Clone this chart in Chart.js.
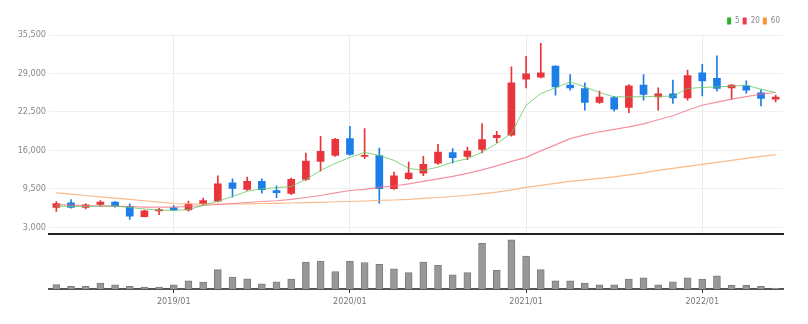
<!DOCTYPE html>
<html>
<head>
<meta charset="utf-8">
<script src="https://cdn.jsdelivr.net/npm/chart.js@4"></script>
<style>
  html, body { margin: 0; padding: 0; background: #fff; }
  #wrap { position: relative; width: 808px; height: 324px; }
  #pbox { position: absolute; left: 0; top: 0; width: 808px; height: 242px; }
  #vbox { position: absolute; left: 0; top: 236px; width: 808px; height: 88px; }
</style>
</head>
<body>
<div id="wrap">
  <div id="pbox"><canvas id="priceChart" width="808" height="242"></canvas></div>
  <div id="vbox"><canvas id="volChart" width="808" height="88"></canvas></div>
</div>
<script>
// monthly candles, 2018/05 - 2022/06
const months = [
  '2018/05', '2018/06', '2018/07', '2018/08', '2018/09', '2018/10', '2018/11', '2018/12',
  '2019/01', '2019/02', '2019/03', '2019/04', '2019/05', '2019/06', '2019/07', '2019/08',
  '2019/09', '2019/10', '2019/11', '2019/12', '2020/01', '2020/02', '2020/03', '2020/04',
  '2020/05', '2020/06', '2020/07', '2020/08', '2020/09', '2020/10', '2020/11', '2020/12',
  '2021/01', '2021/02', '2021/03', '2021/04', '2021/05', '2021/06', '2021/07', '2021/08',
  '2021/09', '2021/10', '2021/11', '2021/12', '2022/01', '2022/02', '2022/03', '2022/04',
  '2022/05', '2022/06'
];
const openP = [
  6340, 7130, 6340, 6850, 7240, 6560, 4810, 5780, 6290, 5950, 6970, 7410, 10530, 9390, 10750, 9220,
  8710, 11090, 14140, 15150, 17990, 14990, 15100, 9510, 11200, 12150, 13850, 15610, 14990, 16170, 18160, 18550,
  28040, 28380, 30240, 27020, 26460, 24090, 24940, 23240, 27020, 25040, 25550, 24870, 29110, 28160, 26560, 26900,
  25710, 24650
];
const highP = [
  7360, 7700, 6970, 7530, 7360, 6970, 5920, 6220, 6680, 7410, 7950, 11710, 11200, 11480, 11200, 10020,
  11310, 15550, 18380, 18040, 20070, 19680, 16390, 12320, 14020, 14990, 17020, 16290, 16560, 20530, 19220, 30120,
  31880, 34090, 30300, 28830, 27410, 26000, 25150, 27140, 28830, 26560, 27870, 29560, 30530, 31990, 27100, 27750,
  26290, 25330
];
const lowP = [
  5660, 6220, 6120, 6560, 6390, 4310, 4730, 5150, 5830, 5710, 6800, 7300, 8090, 9220, 8760, 7990,
  8490, 10920, 12490, 14980, 15200, 14600, 7070, 9400, 11100, 11710, 13630, 13850, 14420, 15550, 17310, 18380,
  26560, 28260, 25320, 26170, 22780, 23920, 22610, 22390, 24480, 22780, 23920, 24480, 25210, 26000, 24600, 25610,
  23510, 24190
];
const closeP = [
  7020, 6340, 6800, 7240, 6560, 4870, 5780, 6000, 5950, 6900, 7530, 10360, 9560, 10750, 9340, 8830,
  11090, 14190, 15830, 17870, 15320, 15150, 9510, 11710, 12150, 13630, 15710, 14760, 15880, 17820, 18550, 27410,
  28940, 29110, 26730, 26560, 24090, 24990, 22950, 26900, 25440, 25550, 24870, 28660, 27750, 26460, 27020, 26170,
  24770, 24990
];
const ma5 = [
  6590, 6510, 6510, 6590, 6590, 6340, 6090, 5920, 5830, 6000, 6680, 7410, 8200, 9100, 9510, 9680,
  9900, 11090, 12610, 13800, 14810, 15660, 15150, 14310, 12950, 12610, 13170, 14020, 14590, 15710, 17140, 18880,
  23630, 25610, 26560, 27580, 26730, 25780, 25040, 25040, 25070, 25150, 25150, 26460, 26630, 26730, 26850, 27020,
  26340, 25780
];
const ma20 = [
  6850, 6760, 6680, 6590, 6590, 6510, 6420, 6420, 6420, 6510, 6680, 6850, 7020, 7190, 7360, 7480,
  7700, 8030, 8370, 8800, 9220, 9390, 9730, 9980, 10320, 10750, 11170, 11590, 12100, 12700, 13370, 14140,
  14810, 15920, 16930, 17980, 18630, 19140, 19560, 19980, 20490, 21170, 21850, 22780, 23630, 24140, 24650, 25070,
  25490, 25780
];
const ma60 = [
  8830, 8590, 8370, 8150, 7920, 7700, 7480, 7240, 7020, 6970, 6930, 6930, 6930, 6970, 7020, 7050,
  7100, 7150, 7220, 7310, 7360, 7440, 7530, 7610, 7700, 7870, 8030, 8200, 8410, 8660, 8930, 9310,
  9730, 10070, 10410, 10750, 11000, 11260, 11510, 11850, 12190, 12610, 12950, 13290, 13630, 13970, 14310, 14650,
  14980, 15270
];
const volume = [
  430, 270, 270, 570, 400, 270, 200, 200, 400, 800, 670, 1900, 1170, 1000, 500, 700,
  970, 2630, 2730, 1700, 2730, 2600, 2430, 1970, 1600, 2630, 2330, 1400, 1600, 4470, 1830, 4830,
  3230, 1900, 800, 800, 570, 400, 400, 970, 1100, 400, 700, 1100, 970, 1300, 370, 370,
  270, 100
];
const priceTicks = [3000, 9500, 16000, 22500, 29000, 35500];

const UP = 'rgb(232, 52, 58)';
const DOWN = 'rgb(28, 126, 230)';
const isUp = i => closeP[i] >= openP[i];
const isJan = i => months[i] && months[i].endsWith('/01');

Chart.defaults.font.family = "'Liberation Sans Narrow', 'DejaVu Sans Condensed', 'Liberation Sans', sans-serif";
Chart.defaults.animation = false;

const legendColors = ['rgb(40, 180, 40)', 'rgb(238, 60, 70)', 'rgb(245, 150, 55)'];

new Chart(document.getElementById('priceChart'), {
  type: 'bar',
  data: {
    labels: months,
    datasets: [
      { type: 'line', label: '5', data: ma5, borderColor: 'rgba(100, 200, 100, 0.8)', borderWidth: 1, pointRadius: 0, tension: 0 },
      { type: 'line', label: '20', data: ma20, borderColor: 'rgba(240, 110, 130, 0.75)', borderWidth: 1.2, pointRadius: 0, tension: 0 },
      { type: 'line', label: '60', data: ma60, borderColor: 'rgba(248, 170, 110, 0.8)', borderWidth: 1.2, pointRadius: 0, tension: 0 },
      {
        label: 'body',
        data: months.map((m, i) => [openP[i], closeP[i]]),
        backgroundColor: ctx => isUp(ctx.dataIndex) ? UP : DOWN,
        barThickness: 7,
        grouped: false
      },
      {
        label: 'wick',
        data: months.map((m, i) => [lowP[i], highP[i]]),
        backgroundColor: ctx => isUp(ctx.dataIndex) ? UP : DOWN,
        barThickness: 1,
        grouped: false
      }
    ]
  },
  options: {
    responsive: false,
    layout: { padding: { top: 14, right: 25, left: 0, bottom: 0 } },
    plugins: {
      tooltip: { enabled: false },
      legend: {
        position: 'top',
        align: 'end',
        labels: {
          boxWidth: 4,
          boxHeight: 7,
          padding: 3,
          color: '#888',
          font: { size: 8 },
          filter: item => item.datasetIndex < 3,
          generateLabels: chart => Chart.defaults.plugins.legend.labels.generateLabels(chart).map(l => {
            const c = legendColors[l.datasetIndex] || l.fillStyle;
            return Object.assign(l, { fillStyle: c, strokeStyle: c, lineWidth: 0 });
          })
        }
      }
    },
    scales: {
      x: {
        offset: true,
        grid: {
          offset: false,
          drawTicks: false,
          color: ctx => isJan(ctx.index) ? '#ececec' : 'rgba(0,0,0,0)'
        },
        ticks: { display: false },
        border: { display: true, color: '#222', width: 2 },
        afterFit: s => { s.height = 3; }
      },
      y: {
        min: 1930,
        max: 35500,
        afterBuildTicks: s => { s.ticks = priceTicks.map(v => ({ value: v })); },
        afterFit: s => { s.width = 49; },
        grid: { color: '#f0f0f0', drawTicks: false },
        border: { display: false },
        ticks: {
          padding: 3,
          color: '#888',
          font: { size: 9 },
          callback: v => v.toLocaleString('en-US')
        }
      }
    }
  }
});

new Chart(document.getElementById('volChart'), {
  type: 'bar',
  data: {
    labels: months,
    datasets: [{
      label: 'volume',
      data: volume,
      backgroundColor: 'rgb(152, 152, 152)',
      borderColor: 'rgb(125, 125, 125)',
      borderWidth: 1,
      barThickness: 7
    }]
  },
  options: {
    responsive: false,
    layout: { padding: { top: 2, right: 25, left: 49, bottom: 0 } },
    plugins: { legend: { display: false }, tooltip: { enabled: false } },
    scales: {
      x: {
        offset: true,
        grid: {
          offset: false,
          drawOnChartArea: false,
          tickLength: 4,
          tickColor: ctx => isJan(ctx.index) ? '#333' : 'rgba(0,0,0,0)'
        },
        border: { display: true, color: '#555', width: 2 },
        ticks: {
          autoSkip: false,
          maxRotation: 0,
          padding: 3,
          color: '#777',
          font: { size: 9 },
          callback: (v, i) => isJan(i) ? months[i] : ''
        },
        afterFit: s => { s.height = 35; }
      },
      y: { display: false, min: 0, max: 5000 }
    }
  }
});
</script>
</body>
</html>
